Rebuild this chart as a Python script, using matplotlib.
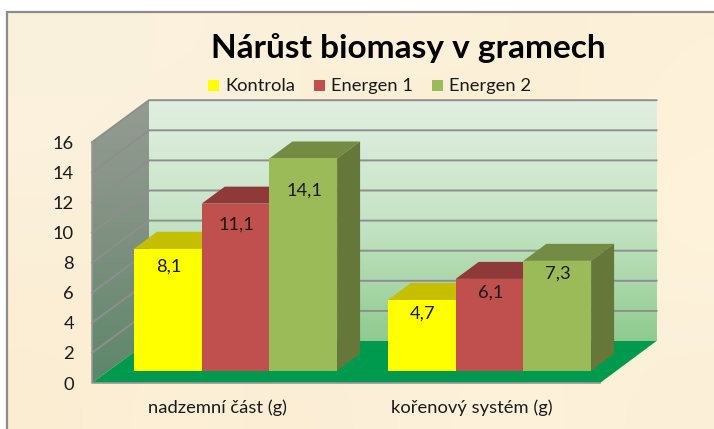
import numpy as np
import matplotlib
matplotlib.use('Agg')
import matplotlib.pyplot as plt
from matplotlib.colors import LinearSegmentedColormap
from matplotlib.patches import Polygon, Rectangle

plt.rcParams['font.family'] = ['Lato', 'DejaVu Sans']

title = 'Nárůst biomasy v gramech'
categories = ['nadzemní část (g)', 'kořenový systém (g)']
series_names = ['Kontrola', 'Energen 1', 'Energen 2']
kontrola = [8.1, 4.7]
energen1 = [11.1, 6.1]
energen2 = [14.1, 7.3]
y_ticks = [0, 2, 4, 6, 8, 10, 12, 14, 16]

# how far each value label sits below the top of its bar, in value units
label_drop = [[1.2, 1.4, 2.15], [0.9, 0.9, 0.85]]

front_faces = ['#FFFF00', '#C0504D', '#9BBB59']
top_faces = ['#C6BE00', '#8F3A39', '#748B43']
side_faces = ['#C6BE00', '#8F3A39', '#66773A']

# everything below is in image pixels
PX_UNIT = 240.8 / 16
WALL_X0, WALL_X1, WALL_Y0 = 149, 656.5, 341
FRONT_X0, FRONT_X1, FRONT_Y0 = 92, 600, 383
BAR_Y0 = 370.7
BAR_W = 67.7
BAR_DX, BAR_DY = 23, -17
GROUP_X = [134, 388]


def wall_y(v):
    return WALL_Y0 - v * PX_UNIT


def front_y(v):
    return FRONT_Y0 - v * PX_UNIT


fig = plt.figure(figsize=(7.14, 4.29), dpi=100)
ax = fig.add_axes([0, 0, 1, 1])
ax.set_xlim(0, 714)
ax.set_ylim(429, 0)
ax.axis('off')

# parchment background, soft patches
paper = np.array([
    [249, 241, 220, 252, 242, 222, 251, 239, 216, 253, 242, 220, 251, 239, 214, 253, 241, 218],
    [253, 242, 222, 250, 239, 216, 253, 241, 216, 249, 237, 210, 252, 239, 214, 254, 242, 218],
    [250, 239, 216, 253, 241, 218, 251, 239, 214, 253, 241, 216, 251, 238, 212, 255, 243, 220],
    [252, 239, 214, 250, 237, 212, 253, 241, 218, 252, 239, 216, 253, 241, 216, 252, 241, 218],
    [251, 237, 210, 253, 241, 216, 250, 237, 212, 253, 241, 218, 254, 242, 218, 251, 239, 216],
], dtype=float).reshape(5, 6, 3) / 255
ax.imshow(paper, extent=(7, 714, 429, 12), interpolation='bicubic', aspect='auto', zorder=0)
ax.plot([7, 7, 714], [429, 12, 12], color='#8C8C8C', lw=1.6, zorder=1, solid_joinstyle='miter')
ax.set_xlim(0, 714)
ax.set_ylim(429, 0)

# back wall gradient
wall_cmap = LinearSegmentedColormap.from_list('wall', ['#E1EFE1', '#C6E4C6', '#8FCB8E'])
im = ax.imshow(np.linspace(0, 1, 256).reshape(-1, 1), cmap=wall_cmap, aspect='auto', zorder=2,
               extent=(WALL_X0, WALL_X1, WALL_Y0, wall_y(16)))
ax.set_xlim(0, 714)
ax.set_ylim(429, 0)

# left wall gradient, clipped to its shape
side_cmap = LinearSegmentedColormap.from_list('side', ['#959C92', '#7E9080', '#5C8769'])
im = ax.imshow(np.linspace(0, 1, 256).reshape(-1, 1), cmap=side_cmap, aspect='auto', zorder=2,
               extent=(FRONT_X0, WALL_X0, FRONT_Y0, wall_y(16)))
im.set_clip_path(Polygon([(FRONT_X0, front_y(16)), (WALL_X0, wall_y(16)), (WALL_X0, WALL_Y0),
                          (FRONT_X0, FRONT_Y0)], transform=ax.transData))
ax.set_xlim(0, 714)
ax.set_ylim(429, 0)

# floor
ax.add_patch(Polygon([(FRONT_X0, FRONT_Y0), (WALL_X0, WALL_Y0), (WALL_X1, WALL_Y0), (FRONT_X1, FRONT_Y0)],
                     facecolor='#009A4E', edgecolor='none', zorder=3))

# gridlines on both walls
for v in y_ticks:
    if v > 0:
        ax.plot([FRONT_X0, WALL_X0, WALL_X1], [front_y(v), wall_y(v), wall_y(v)],
                color='#8E8E8E', lw=1.4, zorder=3, solid_joinstyle='miter')
    ax.text(74, front_y(v) + 1.5, str(v), ha='right', va='center', fontsize=13.2, color='#1A1A1A', zorder=6)
ax.plot([FRONT_X0, FRONT_X0, FRONT_X1], [front_y(16), FRONT_Y0, FRONT_Y0], color='#999999', lw=1.2, zorder=4)

# bars
all_series = [kontrola, energen1, energen2]
for g, gx in enumerate(GROUP_X):
    for s, values in enumerate(all_series):
        v = values[g]
        x0 = gx + s * BAR_W
        x1 = x0 + BAR_W
        y_top = BAR_Y0 - v * PX_UNIT
        ax.add_patch(Polygon([(x0, y_top), (x0 + BAR_DX, y_top + BAR_DY), (x1 + BAR_DX, y_top + BAR_DY), (x1, y_top)],
                             facecolor=top_faces[s], edgecolor='none', zorder=4 + s * 0.1))
        ax.add_patch(Polygon([(x1, y_top), (x1 + BAR_DX, y_top + BAR_DY), (x1 + BAR_DX, BAR_Y0 + BAR_DY), (x1, BAR_Y0)],
                             facecolor=side_faces[s], edgecolor='none', zorder=4 + s * 0.1))
        ax.add_patch(Rectangle((x0, y_top), BAR_W, v * PX_UNIT, facecolor=front_faces[s], edgecolor='none',
                               zorder=4.05 + s * 0.1))
        label_y = BAR_Y0 - (v - label_drop[g][s]) * PX_UNIT
        ax.text((x0 + x1) / 2 + 1, label_y, str(v).replace('.', ','), ha='center', va='center',
                fontsize=13.2, color='#1A1A1A', zorder=6)

# category labels
ax.text(218, 408, categories[0], ha='center', va='center', fontsize=13.2, color='#1A1A1A')
ax.text(472, 408, categories[1], ha='center', va='center', fontsize=13.2, color='#1A1A1A')

# title and legend
ax.text(408, 48, title, ha='center', va='center', fontsize=24, fontweight='bold', color='black')
legend_x = [208, 314, 432]
for name, color, lx in zip(series_names, front_faces, legend_x):
    ax.add_patch(Rectangle((lx, 80), 11, 11, facecolor=color, edgecolor='none'))
    ax.text(lx + 17, 86, name, ha='left', va='center', fontsize=13.2, color='#1A1A1A')

plt.savefig('out.png', dpi=100)
